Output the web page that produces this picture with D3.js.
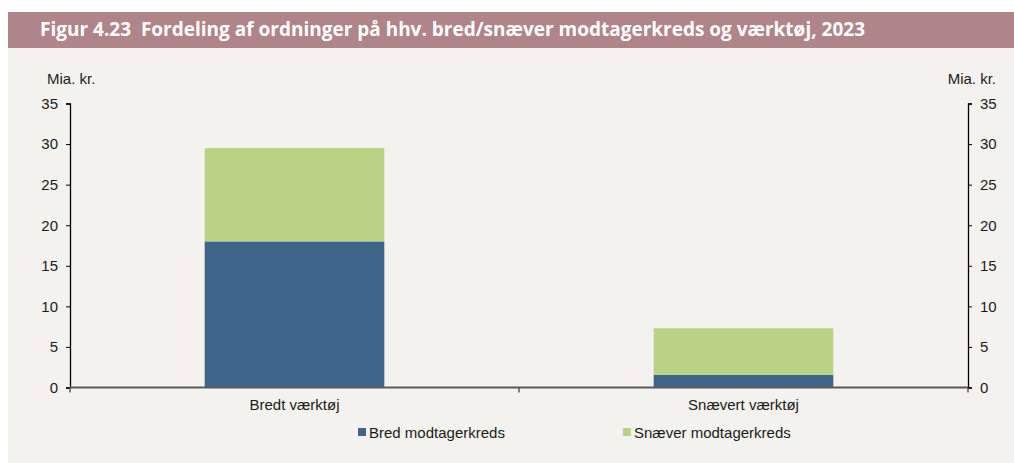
<!DOCTYPE html>
<html>
<head>
<meta charset="utf-8">
<script src="https://cdn.jsdelivr.net/npm/d3@7"></script>
<style>
  html, body { margin: 0; padding: 0; background: #ffffff; }
  svg { display: block; }
  text { font-family: "Liberation Sans", Arial, sans-serif; fill: #1a1a1a; }
</style>
</head>
<body>
<svg id="chart" width="1014" height="463"></svg>
<script>
const titleText = "Figur 4.23  Fordeling af ordninger på hhv. bred/snæver modtagerkreds og værktøj, 2023";
const categories = ["Bredt værktøj", "Snævert værktøj"];
const seriesNames = ["Bred modtagerkreds", "Snæver modtagerkreds"];
const bredValues = [18.0, 1.55];
const snaeverValues = [11.5, 5.75];
const yTicks = [0, 5, 10, 15, 20, 25, 30, 35];
const unitLabel = "Mia. kr.";
const colors = ["#3e6489", "#b9d283"];

(function () {
const svg = d3.select("#chart");
const W = 1014, H = 463;
const fs = "15px";

// Panel background
svg.append("rect").attr("x", 8).attr("y", 48).attr("width", W - 8).attr("height", H - 48).attr("fill", "#f4f2ee");
// Title band
svg.append("rect").attr("x", 8).attr("y", 12).attr("width", W - 8).attr("height", 36).attr("fill", "#b0858a");
svg.append("text")
  .attr("x", 40).attr("y", 36)
  .attr("textLength", 825).attr("lengthAdjust", "spacingAndGlyphs")
  .style("font-family", "'Open Sans', sans-serif")
  .style("font-weight", "bold").style("font-size", "19px")
  .style("white-space", "pre")
  .style("fill", "#ffffff")
  .text(titleText);

const mLeft = 70, mRight = 968, mTop = 103.5, mBottom = 387.5;

const x = d3.scaleBand().domain(categories).range([mLeft, mRight]).paddingInner(0.6).paddingOuter(0.3);
const y = d3.scaleLinear().domain([0, 35]).range([mBottom, mTop]);

const data = categories.map((c, i) => ({ cat: c, bred: bredValues[i], snaever: snaeverValues[i] }));
const stacked = d3.stack().keys(["bred", "snaever"])(data);

svg.append("g").selectAll("g").data(stacked).join("g")
  .attr("fill", (d, i) => colors[i])
  .selectAll("rect").data(d => d).join("rect")
  .attr("x", d => x(d.data.cat))
  .attr("width", x.bandwidth())
  .attr("y", d => y(d[1]))
  .attr("height", d => y(d[0]) - y(d[1]));

function styleAxis(g) {
  g.select(".domain").attr("stroke", "#000").attr("stroke-width", 1.3);
  g.selectAll(".tick line").attr("stroke", "#000");
  g.selectAll(".tick text").style("font-size", fs)
    .style("font-family", "'Liberation Sans', Arial, sans-serif").attr("fill", "#1a1a1a");
}
svg.append("g").attr("transform", `translate(${mLeft},0)`)
  .call(d3.axisLeft(y).tickValues(yTicks).tickSize(4).tickPadding(8)).call(styleAxis);
svg.append("g").attr("transform", `translate(${mRight},0)`)
  .call(d3.axisRight(y).tickValues(yTicks).tickSize(4).tickPadding(8)).call(styleAxis);

// X axis
svg.append("line").attr("x1", mLeft).attr("x2", mRight).attr("y1", mBottom).attr("y2", mBottom)
  .attr("stroke", "#5a5a5a").attr("stroke-width", 2);
const bounds = [mLeft, (x(categories[0]) + x.bandwidth() + x(categories[1])) / 2, mRight];
svg.append("g").selectAll("line").data(bounds).join("line")
  .attr("x1", d => d).attr("x2", d => d).attr("y1", mBottom).attr("y2", mBottom + 5)
  .attr("stroke", "#5a5a5a").attr("stroke-width", 1.5);
svg.append("g").selectAll("text").data(categories).join("text")
  .attr("x", d => x(d) + x.bandwidth() / 2).attr("y", 410)
  .attr("text-anchor", "middle").style("font-size", fs)
  .text(d => d);

// Unit labels
svg.append("text").attr("x", 47).attr("y", 84).style("font-size", fs).text(unitLabel);
svg.append("text").attr("x", 996).attr("y", 84).attr("text-anchor", "end").style("font-size", fs).text(unitLabel);

// Legend
const legendX = [358, 623];
const lg = svg.append("g").selectAll("g").data(seriesNames).join("g")
  .attr("transform", (d, i) => `translate(${legendX[i]},0)`);
lg.append("rect").attr("x", 0).attr("y", 428).attr("width", 8).attr("height", 8).attr("fill", (d, i) => colors[i]);
lg.append("text").attr("x", 11).attr("y", 438).style("font-size", fs).text(d => d);
})();
</script>
</body>
</html>
